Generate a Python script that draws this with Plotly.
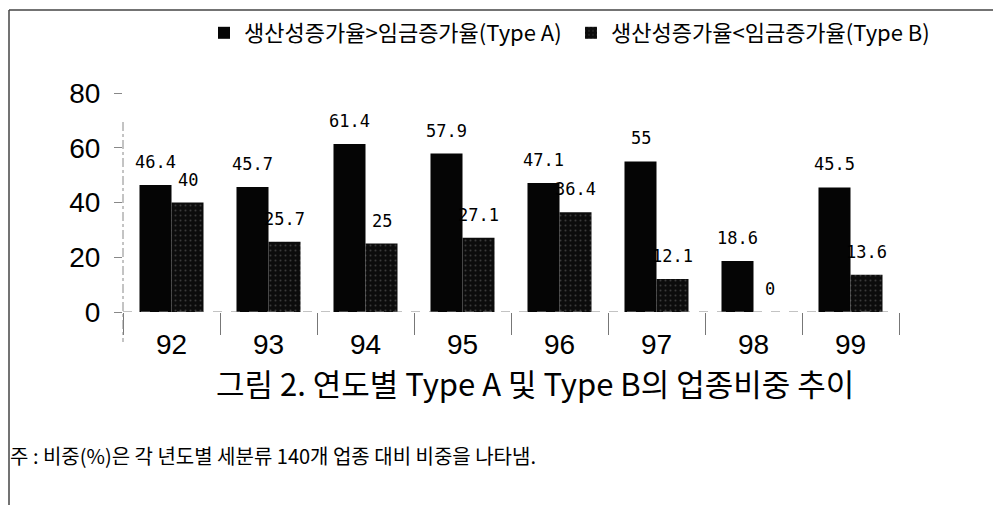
import plotly.graph_objects as go

years = ["92", "93", "94", "95", "96", "97", "98", "99"]
type_a = [46.4, 45.7, 61.4, 57.9, 47.1, 55, 18.6, 45.5]
type_b = [40, 25.7, 25, 27.1, 36.4, 12.1, 0, 13.6]
name_a = "생산성증가율>임금증가율(Type A)"
name_b = "생산성증가율<임금증가율(Type B)"
y_ticks = [0, 20, 40, 60, 80]
title_text = "그림 2. 연도별 Type A 및 Type B의 업종비중 추이"
note_text = "주 : 비중(%)은 각 년도별 세분류 140개 업종 대비 비중을 나타냄."

KR = "Noto Sans CJK KR"
NUM = "Liberation Sans"

# page layout (page pixels; the page body adds an 8px offset)
OFF = 8
PL, PT, PW, PH = 123, 93, 776, 219


def px(xp):
    return (xp - PL) / PW


def py(yp):
    return (PT + PH - yp) / PH


fig = go.Figure()
fig.add_trace(go.Bar(x=years, y=type_a, name=name_a,
                     marker=dict(color="#050505", line=dict(width=0))))
fig.add_trace(go.Bar(x=years, y=type_b, name=name_b,
                     marker=dict(color="#0c0c0c", line=dict(width=0),
                                 pattern=dict(shape=".", fgcolor="#6a6a6a",
                                              size=5, solidity=0.12))))

# value labels above bars (x given as category index)
for ys, shift in ((type_a, -16), (type_b, 16)):
    for i, yv in enumerate(ys):
        fig.add_annotation(x=i, y=yv, xref="x", yref="y", text=f"{yv:g}",
                           showarrow=False, xshift=shift, yshift=11,
                           yanchor="bottom",
                           font=dict(family="DejaVu Sans Mono", size=17, color="#000"))

# title and note
fig.add_annotation(x=px(535), y=py(382), xref="paper", yref="paper",
                   text=title_text, showarrow=False, xanchor="center", yanchor="middle",
                   font=dict(family=KR, size=31, color="#000"))
fig.add_annotation(x=px(8), y=py(455), xref="paper", yref="paper",
                   text=note_text, showarrow=False, xanchor="left", yanchor="middle",
                   font=dict(family=KR, size=20, color="#000"))

# frame and dashed axis lines
shapes = [
    dict(type="line", xref="paper", yref="paper", x0=px(9), x1=px(1010),
         y0=py(10), y1=py(10), line=dict(color="#444", width=1.5)),
    dict(type="line", xref="paper", yref="paper", x0=px(9), x1=px(9),
         y0=py(10), y1=py(515), line=dict(color="#444", width=1.5)),
    dict(type="line", xref="paper", yref="paper", x0=0, x1=0,
         y0=py(122), y1=py(342), line=dict(color="#888", width=1, dash="dashdot")),
    dict(type="line", xref="paper", yref="y", x0=0, x1=px(893), y0=0, y1=0,
         line=dict(color="#888", width=1.2, dash="dash")),
]

fig.update_layout(
    width=1001, height=505,
    margin=dict(l=PL - OFF, r=1001 - (PL - OFF) - PW, t=PT - OFF,
                b=505 - (PT - OFF) - PH, autoexpand=False),
    paper_bgcolor="white", plot_bgcolor="white",
    barmode="group", bargap=0.34, bargroupgap=0,
    shapes=shapes,
    showlegend=True,
    legend=dict(orientation="h", x=px(204), xanchor="left",
                y=py(33), yanchor="middle", entrywidth=322, entrywidthmode="pixels",
                font=dict(family=KR, size=22, color="#000"),
                bgcolor="rgba(0,0,0,0)", itemclick=False, traceorder="normal"),
    xaxis=dict(type="category", range=[-0.5, 7.5], tickson="boundaries", ticks="outside",
               ticklen=22, tickcolor="#777", tickwidth=1, showline=False, showgrid=False,
               zeroline=False, ticklabelstandoff=13, automargin=False, tickangle=0,
               tickfont=dict(family=NUM, size=28, color="#000")),
    yaxis=dict(range=[0, 80], tickvals=y_ticks, ticks="outside", ticklen=8,
               tickcolor="#888", showline=False, showgrid=False, zeroline=False,
               ticklabelstandoff=8, automargin=False,
               tickfont=dict(family=NUM, size=28, color="#000")),
)

fig.write_html("out.html")
